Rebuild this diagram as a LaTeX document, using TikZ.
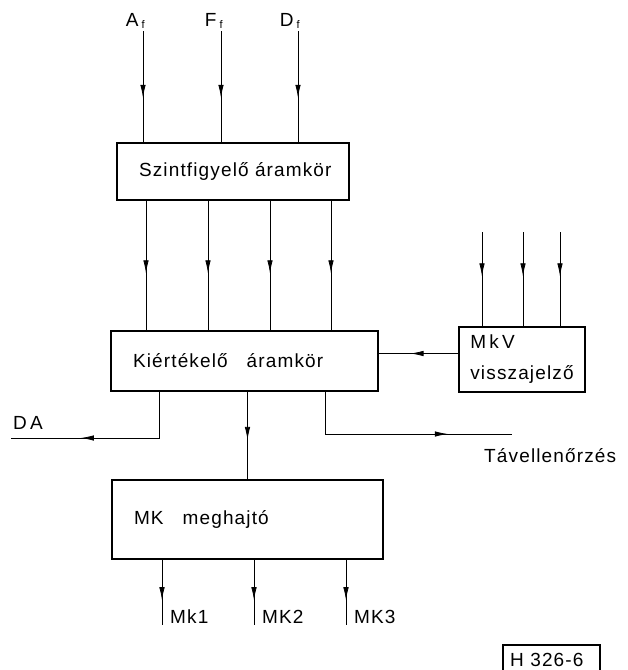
\documentclass[tikz,border=0pt]{standalone}
\usepackage{fontspec}
\setmainfont{Liberation Sans}[LetterSpace=6]
\usetikzlibrary{arrows.meta,decorations.markings}
\newcommand\blockfont{\fontsize{19}{31}\selectfont}
\tikzset{
  block/.style={draw,line width=1.5pt,inner xsep=22pt,inner ysep=0pt,align=left,font=\blockfont},
  sig/.style={line width=0.8pt},
  sig arrow/.style={sig,postaction={decorate},
    decoration={markings,mark=at position #1 with {\arrow{Latex[length=13pt,width=5.5pt]}}}},
  lbl/.style={inner sep=0pt,font=\blockfont},
}

\begin{document}
\begin{tikzpicture}[x=1pt,y=-1pt]
  \useasboundingbox (0,0) rectangle (628,670);
  % blocks
  \node[block,text width=188pt,minimum height=57pt] (szint) at (233,171.5) {\mbox{Szintfigyelő áramkör}};
  \node[block,text width=223pt,minimum height=60pt] (kiert) at (244.5,361) {\mbox{Kiértékelő\quad áramkör}};
  \node[block,inner xsep=8pt,minimum width=126pt,minimum height=65pt] (mkv) at (522,359.5) {M\,k\,V\\visszajelző};
  \node[block,text width=227pt,minimum height=79pt] (mk) at (247.5,519.5) {\mbox{MK\quad meghajtó}\\[-8pt]};
  % inputs
  \foreach \n/\x in {A/143,F/221,D/298} {
    \coordinate (in\n) at (\x,31);
    \node[lbl,anchor=base east] (\n f) at (\x+2,26) {\n\,\raisebox{-2pt}{\fontsize{11}{11}\selectfont f}};
    \draw[sig arrow=0.6] (in\n) -- (in\n |- szint.north);
  }
  \foreach \x [count=\i] in {146,208,270,331} {
    \coordinate (s\i) at (\x,0);
    \draw[sig arrow=0.56] (szint.south -| s\i) -- (kiert.north -| s\i);
  }
  \foreach \x [count=\i] in {482,523,560} {
    \coordinate (v\i) at (\x,232);
    \draw[sig arrow=0.47] (v\i) -- (v\i |- mkv.north);
  }
  \draw[sig arrow=0.6] ([yshift=6pt]mkv.west) -- ([yshift=6pt]mkv.west -| kiert.east);
  % outputs of the evaluator
  \coordinate (daTurn) at (159,438);
  \coordinate (daEnd) at (11,438);
  \node[lbl,anchor=base west] (DA) at (13,429) {D\,A};
  \draw[sig arrow=0.64] (kiert.south -| daTurn) -- (daTurn) -- (daEnd);
  \coordinate (tvTurn) at (325,434);
  \coordinate (tvEnd) at (512,434);
  \node[lbl,anchor=base west] (tav) at (484,462) {Távellenőrzés};
  \draw[sig arrow=0.72] (kiert.south -| tvTurn) -- (tvTurn) -- (tvEnd);
  \draw[sig arrow=0.55] (kiert.south -| mk.north) -- (mk.north);
  % driver outputs
  \foreach \x/\t in {162/Mk1,254/MK2,346/MK3} {
    \coordinate (o\t) at (\x,625);
    \node[lbl,anchor=base west] (l\t) at (\x+8,623) {\t};
    \draw[sig arrow=0.62] (mk.south -| o\t) -- (o\t);
  }
  % drawing number
  \node[lbl,anchor=base west] (ref) at (510,666) {H 326-6};
  \draw[line width=1.2pt] (503,670) -- (503,645) -- (600,645) -- (600,670);
\end{tikzpicture}
\end{document}
